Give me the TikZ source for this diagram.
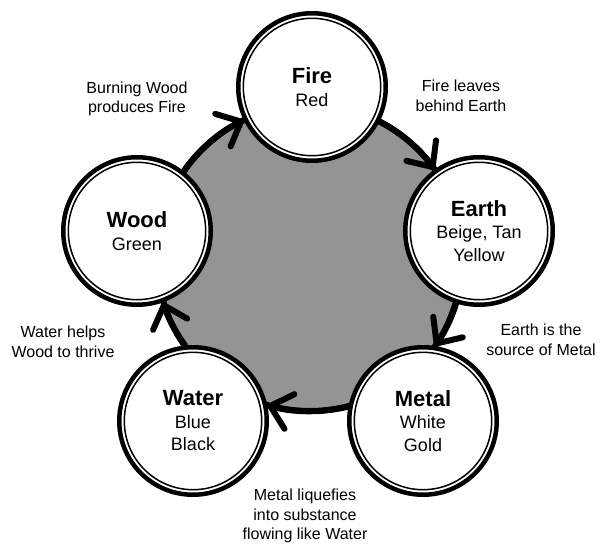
\documentclass[tikz,border=0pt]{standalone}
\usepackage{fontspec}
\setmainfont{Liberation Sans}
\usetikzlibrary{arrows.meta}

\begin{document}
\begin{tikzpicture}[x=1pt,y=1pt,
  elem/.style={circle,draw=black,line width=4.5pt,fill=white,minimum size=147.5pt,inner sep=0pt,align=center,font=\fontsize{18}{22.5}\selectfont,
    path picture={\draw[line width=1.5pt] (path picture bounding box.center) circle (68.7pt);}},
  note/.style={align=center,font=\fontsize{16}{19.5}\selectfont,inner sep=0pt},
  flow/.style={line width=6pt,looseness=0.85,-{Straight Barb[length=20pt,width=36pt,round]}}]
\useasboundingbox (-310,-287) rectangle (291,258);
\node[circle,draw=black,line width=6pt,fill=black!42,minimum size=306pt,inner sep=0pt] (core) at (0,0) {};
\node[elem] (el_fire) at (2,171) {{\fontsize{22}{22.5}\selectfont\bfseries Fire}\\Red};
\node[elem] (el_earth) at (169,27) {{\fontsize{22}{22.5}\selectfont\bfseries Earth}\\Beige, Tan\\Yellow};
\node[elem] (el_metal) at (113,-163) {{\fontsize{22}{22.5}\selectfont\bfseries Metal}\\White\\Gold};
\node[elem] (el_water) at (-117,-163) {{\fontsize{22}{22.5}\selectfont\bfseries Water}\\Blue\\Black};
\node[elem] (el_wood) at (-173,27) {{\fontsize{22}{22.5}\selectfont\bfseries Wood}\\Green};
\draw[flow] (el_wood.52) to[bend left=15] (el_fire.206);
\draw[flow] (el_fire.333) to[bend left=14] (el_earth.126);
\draw[flow] (el_earth.252) to[bend left=9] (el_metal.81);
\draw[flow] (el_metal.169) to[bend left=15] (el_water.12);
\draw[flow] (el_water.96) to[bend left=9] (el_wood.290);
\node[note] (lb_wood) at (-173,159) {Burning Wood\\produces Fire};
\node[note] (lb_fire) at (151,162) {Fire leaves\\behind Earth};
\node[note] (lb_earth) at (231,-82) {Earth is the\\source of Metal};
\node[note] (lb_metal) at (-5,-258) {Metal liquefies\\into substance\\flowing like Water};
\node[note] (lb_water) at (-247,-84) {Water helps\\Wood to thrive};
\end{tikzpicture}
\end{document}
